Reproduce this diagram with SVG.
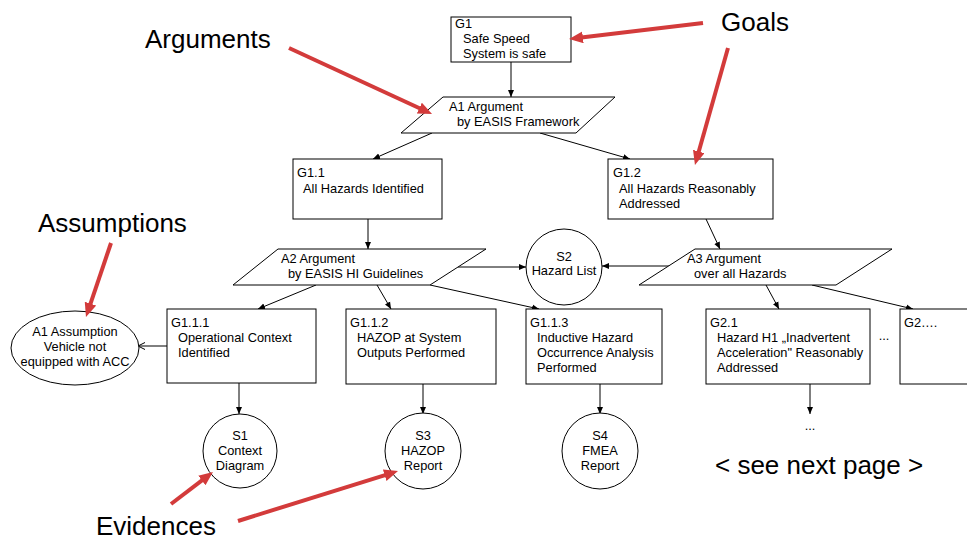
<svg xmlns="http://www.w3.org/2000/svg" width="967" height="542" viewBox="0 0 967 542">
  <style>
    .box { fill: #ffffff; stroke: #000000; stroke-width: 1; }
    .t { font-family: "Liberation Sans", Arial, sans-serif; font-size: 12.8px; fill: #000000; }
    .tc { font-family: "Liberation Sans", Arial, sans-serif; font-size: 12.8px; fill: #000000; text-anchor: middle; }
    .big { font-family: "Liberation Sans", Arial, sans-serif; font-size: 26px; fill: #000000; }
    .edge { stroke: #000000; stroke-width: 1; fill: none; marker-end: url(#arrow); }
    .note { stroke: #d33b3b; stroke-width: 4; fill: none; marker-end: url(#redArrow); }
  </style>
  <defs>
    <marker id="arrow" markerUnits="userSpaceOnUse" markerWidth="8" markerHeight="7" refX="7" refY="3.5" orient="auto">
      <path d="M0,0.5 L7,3.5 L0,6.5 z" fill="#000000"/>
    </marker>
    <marker id="openArrow" markerUnits="userSpaceOnUse" markerWidth="9" markerHeight="9" refX="7" refY="4" orient="auto">
      <path d="M0,0.5 L7,4 L0,7.5" fill="none" stroke="#000000" stroke-width="1"/>
    </marker>
    <marker id="redArrow" markerUnits="userSpaceOnUse" markerWidth="16" markerHeight="14" refX="8" refY="6" orient="auto">
      <path d="M0,0 L14,6 L0,12 z" fill="#d33b3b"/>
    </marker>
  </defs>

  <rect width="967" height="542" fill="#ffffff"/>

  <!-- connectors -->
  <g id="connectors">
    <line class="edge" x1="511" y1="62" x2="511" y2="97"/>
    <line class="edge" x1="432" y1="133" x2="373" y2="159"/>
    <line class="edge" x1="540" y1="133" x2="630" y2="159"/>
    <line class="edge" x1="368" y1="219" x2="368" y2="249"/>
    <line class="edge" x1="706" y1="219" x2="720" y2="249"/>
    <line class="edge" x1="458" y1="267" x2="526" y2="267"/>
    <line class="edge" x1="670" y1="266" x2="602" y2="266"/>
    <line class="edge" x1="316" y1="285" x2="258" y2="309"/>
    <line class="edge" x1="377" y1="285" x2="391" y2="309"/>
    <line class="edge" x1="430" y1="285" x2="539" y2="309"/>
    <line class="edge" x1="766" y1="285" x2="779" y2="309"/>
    <line class="edge" x1="812" y1="285" x2="913" y2="309"/>
    <line x1="167" y1="346" x2="138" y2="346" stroke="#000000" stroke-width="1" marker-end="url(#openArrow)"/>
    <line class="edge" x1="239" y1="383" x2="239" y2="414"/>
    <line class="edge" x1="423" y1="384" x2="423" y2="414"/>
    <line class="edge" x1="600" y1="384" x2="600" y2="414"/>
    <line class="edge" x1="810" y1="384" x2="810" y2="414"/>
  </g>

  <!-- goals -->
  <g id="G1">
    <rect class="box" x="451" y="17" width="120" height="45"/>
    <text class="t" x="455" y="28">G1</text>
    <text class="t" x="463" y="43">Safe Speed</text>
    <text class="t" x="463" y="58">System is safe</text>
  </g>
  <g id="G1_1">
    <rect class="box" x="293" y="159" width="149" height="60"/>
    <text class="t" x="297" y="177">G1.1</text>
    <text class="t" x="303" y="193">All Hazards Identified</text>
  </g>
  <g id="G1_2">
    <rect class="box" x="608" y="159" width="165" height="60"/>
    <text class="t" x="613" y="177">G1.2</text>
    <text class="t" x="619" y="193">All Hazards Reasonably</text>
    <text class="t" x="619" y="208">Addressed</text>
  </g>
  <g id="G1_1_1">
    <rect class="box" x="167" y="309" width="149" height="74"/>
    <text class="t" x="171" y="327">G1.1.1</text>
    <text class="t" x="178" y="342">Operational Context</text>
    <text class="t" x="178" y="357">Identified</text>
  </g>
  <g id="G1_1_2">
    <rect class="box" x="346" y="309" width="150" height="75"/>
    <text class="t" x="350" y="327">G1.1.2</text>
    <text class="t" x="357" y="342">HAZOP at System</text>
    <text class="t" x="357" y="357">Outputs Performed</text>
  </g>
  <g id="G1_1_3">
    <rect class="box" x="526" y="309" width="136" height="75"/>
    <text class="t" x="530" y="327">G1.1.3</text>
    <text class="t" x="537" y="342">Inductive Hazard</text>
    <text class="t" x="537" y="357">Occurrence Analysis</text>
    <text class="t" x="537" y="372">Performed</text>
  </g>
  <g id="G2_1">
    <rect class="box" x="706" y="309" width="164" height="75"/>
    <text class="t" x="710" y="327">G2.1</text>
    <text class="t" x="717" y="342">Hazard H1 „Inadvertent</text>
    <text class="t" x="717" y="357">Acceleration" Reasonably</text>
    <text class="t" x="717" y="372">Addressed</text>
  </g>
  <g id="G2_n">
    <rect class="box" x="900" y="309" width="80" height="75"/>
    <text class="t" x="904" y="327">G2….</text>
  </g>

  <!-- arguments -->
  <g id="A1">
    <polygon class="box" points="443,97 615,97 576,133 401,133"/>
    <text class="t" x="449" y="111">A1 Argument</text>
    <text class="t" x="457" y="126">by EASIS Framework</text>
  </g>
  <g id="A2">
    <polygon class="box" points="278,249 486,249 430,285 233,285"/>
    <text class="t" x="281" y="263">A2 Argument</text>
    <text class="t" x="288" y="278">by EASIS HI Guidelines</text>
  </g>
  <g id="A3">
    <polygon class="box" points="695,249 892,249 836,285 639,285"/>
    <text class="t" x="687" y="263">A3 Argument</text>
    <text class="t" x="694" y="278">over all Hazards</text>
  </g>

  <!-- assumption -->
  <g id="A1_assumption">
    <ellipse class="box" cx="75" cy="348" rx="64" ry="37"/>
    <text class="tc" x="75" y="336">A1 Assumption</text>
    <text class="tc" x="75" y="351">Vehicle not</text>
    <text class="tc" x="75" y="366">equipped with ACC</text>
  </g>

  <!-- solutions -->
  <g id="S2">
    <circle class="box" cx="564" cy="267" r="38"/>
    <text class="tc" x="564" y="261">S2</text>
    <text class="tc" x="564" y="275">Hazard List</text>
  </g>
  <g id="S1">
    <circle class="box" cx="240" cy="451" r="37"/>
    <text class="tc" x="240" y="440">S1</text>
    <text class="tc" x="240" y="455">Context</text>
    <text class="tc" x="240" y="470">Diagram</text>
  </g>
  <g id="S3">
    <circle class="box" cx="423" cy="451" r="38"/>
    <text class="tc" x="423" y="440">S3</text>
    <text class="tc" x="423" y="455">HAZOP</text>
    <text class="tc" x="423" y="470">Report</text>
  </g>
  <g id="S4">
    <circle class="box" cx="600" cy="451" r="38"/>
    <text class="tc" x="600" y="440">S4</text>
    <text class="tc" x="600" y="455">FMEA</text>
    <text class="tc" x="600" y="470">Report</text>
  </g>

  <!-- continuation marks -->
  <text class="tc" x="884" y="340">...</text>
  <text class="tc" x="810" y="430">...</text>
  <text class="big" x="715" y="474">&lt; see next page &gt;</text>

  <!-- callout labels -->
  <g id="callouts">
    <text class="big" x="145" y="48">Arguments</text>
    <text class="big" x="721" y="31">Goals</text>
    <text class="big" x="38" y="232">Assumptions</text>
    <text class="big" x="96" y="535">Evidences</text>
    <line class="note" x1="289" y1="48" x2="426.6" y2="111.5"/>
    <line class="note" x1="703" y1="23" x2="575" y2="38.3"/>
    <line class="note" x1="728" y1="48" x2="696.6" y2="159.2"/>
    <line class="note" x1="111" y1="243" x2="87.9" y2="311.3"/>
    <line class="note" x1="171" y1="504" x2="208.2" y2="475.6"/>
    <line class="note" x1="238" y1="521" x2="392.3" y2="472.8"/>
  </g>
</svg>
